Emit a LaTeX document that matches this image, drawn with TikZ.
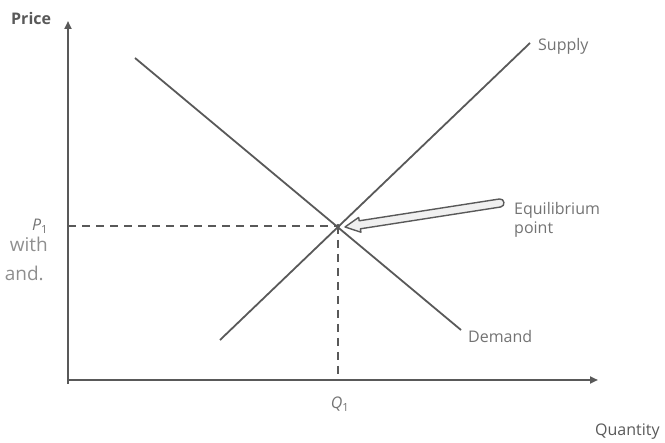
\documentclass[tikz,border=0pt]{standalone}
\usepackage{fontspec}
\setmainfont{Open Sans}
\usetikzlibrary{arrows.meta}
\definecolor{linegray}{gray}{0.35}
\definecolor{textgray}{gray}{0.45}
\begin{document}
\begin{tikzpicture}[x=1pt,y=-1pt,
  curve/.style={draw=linegray, line width=1.8pt},
  axis/.style={draw=linegray, line width=2pt, -{Triangle[length=8pt,width=7pt]}},
  guide/.style={draw=linegray, line width=1.4pt, dash pattern=on 8pt off 6pt},
  lbl/.style={text=textgray, font=\fontsize{16}{18}\selectfont, inner sep=0pt},
  sym/.style={text=textgray, font=\fontsize{16}{18}\selectfont\itshape, inner sep=0pt},
  body/.style={text=textgray!80, font=\fontsize{19}{22}\selectfont, inner sep=0pt}]
\useasboundingbox (0,0) rectangle (665,443);
\clip (0,0) rectangle (665,443);
% coordinates
\coordinate (O) at (68,380);
\coordinate (ytop) at (68,21);
\coordinate (xend) at (598,380);
\coordinate (ybot) at (68,384);
\coordinate (E) at (338,226);
\coordinate (Pax) at (68,226);
\coordinate (Qax) at (338,380);
\coordinate (s0) at (220,340);
\coordinate (s1) at (530,43);
\coordinate (d0) at (135,58);
\coordinate (d1) at (461,330);
% side text
\node[body, anchor=base east] (w1) at (48,252) {with};
\node[body, anchor=base east] (w2) at (44,281) {and.};
% axes
\draw[axis] (ybot) -- (ytop);
\draw[axis] (O) -- (xend);
\node[lbl, text=linegray, font=\fontsize{16}{18}\selectfont\bfseries, anchor=base west] (price) at (11,25) {Price};
\node[lbl, text=linegray, anchor=base west] (qty) at (595,436) {Quantity};
% guides
\draw[guide] (Pax) -- (E);
\draw[guide] (E) -- (Qax);
\node[sym, anchor=base] (p1) at (40,231) {P\textsubscript{\upshape 1}};
\node[sym, anchor=base] (q1) at (340,409) {Q\textsubscript{\upshape 1}};
% curves
\draw[curve] (s0) -- (s1);
\draw[curve] (d0) -- (d1);
\node[lbl, anchor=base west] (sup) at (538,51) {Supply};
\node[lbl, anchor=base west] (dem) at (468,343) {Demand};
% equilibrium point
\fill[linegray] (E) circle (2pt);
% hollow arrow
\draw[draw=linegray, line width=1.4pt, fill=gray!12, line join=round]
  (499.4,199) -- (359.2,220.8) -- (358.7,217.4) -- (345,227)
  -- (360.9,232.2) -- (360.4,228.8) -- (500.6,207)
  .. controls (505.8,206.2) and (504.6,198.2) .. (499.4,199) -- cycle;
\node[lbl, anchor=base west] (eq) at (514,215) {Equilibrium};
\node[lbl, anchor=base west] (pt) at (514,234) {point};
\end{tikzpicture}
\end{document}
